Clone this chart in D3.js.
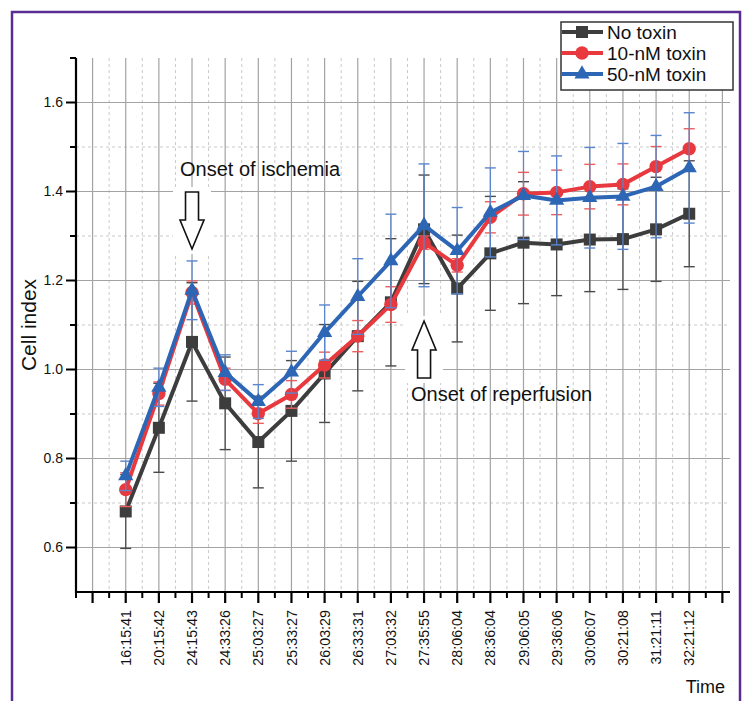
<!DOCTYPE html>
<html>
<head>
<meta charset="utf-8">
<script src="https://cdn.jsdelivr.net/npm/d3@7/dist/d3.min.js"></script>
<style>
  html, body { margin: 0; padding: 0; background: #fff; }
  svg { display: block; font-family: "Liberation Sans", Arial, sans-serif; }
</style>
</head>
<body>
<svg id="chart" width="744" height="701"></svg>
<script>
// Time points (hh:mm:ss after seeding)
const timeLabels = ["16:15:41", "20:15:42", "24:15:43", "24:33:26", "25:03:27", "25:33:27",
  "26:03:29", "26:33:31", "27:03:32", "27:35:55", "28:06:04", "28:36:04", "29:06:05",
  "29:36:06", "30:06:07", "30:21:08", "31:21:11", "32:21:12"];

// Cell index means and errors for each condition
const noToxin = [0.681, 0.869, 1.062, 0.924, 0.837, 0.907, 0.991, 1.075, 1.151, 1.315,
  1.182, 1.261, 1.285, 1.281, 1.292, 1.293, 1.315, 1.350];
const noToxinErr = [0.083, 0.100, 0.133, 0.104, 0.103, 0.113, 0.110, 0.123, 0.143, 0.122,
  0.120, 0.128, 0.137, 0.115, 0.117, 0.113, 0.117, 0.119];

const toxin10 = [0.730, 0.946, 1.173, 0.978, 0.901, 0.944, 1.010, 1.075, 1.146, 1.285,
  1.234, 1.342, 1.395, 1.398, 1.411, 1.416, 1.456, 1.496];
const toxin10Err = [0.038, 0.026, 0.026, 0.025, 0.022, 0.031, 0.029, 0.035, 0.040, 0.015,
  0.015, 0.035, 0.048, 0.050, 0.050, 0.046, 0.045, 0.045];

const toxin50 = [0.761, 0.960, 1.178, 0.993, 0.928, 0.994, 1.083, 1.164, 1.244, 1.324,
  1.267, 1.353, 1.391, 1.380, 1.386, 1.389, 1.411, 1.453];
const toxin50Err = [0.033, 0.043, 0.066, 0.040, 0.038, 0.047, 0.062, 0.085, 0.105, 0.138,
  0.097, 0.100, 0.099, 0.100, 0.113, 0.119, 0.115, 0.124];

const seriesNames = ["No toxin", "10-nM toxin", "50-nM toxin"];
const yMajorTicks = [0.6, 0.8, 1.0, 1.2, 1.4, 1.6];
const yMinorTicks = [0.7, 0.9, 1.1, 1.3, 1.5, 1.7];

const series = [
  { name: seriesNames[0], values: noToxin, err: noToxinErr, color: "#3d3d3d", errColor: "#4a4a4a", symbol: d3.symbolSquare, size: 144 },
  { name: seriesNames[1], values: toxin10, err: toxin10Err, color: "#e8393e", errColor: "#ee5c5c", symbol: d3.symbolCircle, size: 140 },
  { name: seriesNames[2], values: toxin50, err: toxin50Err, color: "#2e66b6", errColor: "#5a86cf", symbol: d3.symbolTriangle, size: 100 }
];

const svg = d3.select("#chart");

// Outer frame
svg.append("rect")
  .attr("x", 12).attr("y", 12).attr("width", 728).attr("height", 700)
  .attr("fill", "none").attr("stroke", "#5b2d93").attr("stroke-width", 2.5);

const plotLeft = 76, plotRight = 730, plotTop = 58, plotBottom = 592;
// Category slots: slot 0 and 19 are blank, time points sit at slots 1..18
const x = d3.scaleLinear().domain([-0.5, 19.23]).range([plotLeft, plotRight]);
const y = d3.scaleLinear().domain([0.5, 1.7]).range([plotBottom, plotTop]);

const majorSlots = d3.range(0, 20);
const minorSlots = d3.range(0, 20).map(i => i + 0.5).filter(v => x(v) <= plotRight);

// Grid
const grid = svg.append("g");
grid.selectAll(".vmin").data(minorSlots).join("line")
  .attr("x1", d => x(d)).attr("x2", d => x(d)).attr("y1", plotTop).attr("y2", plotBottom)
  .attr("stroke", "#c9c9c9").attr("stroke-width", 1).attr("stroke-dasharray", "3,3");
grid.selectAll(".hmin").data(yMinorTicks.filter(v => v < 1.69)).join("line")
  .attr("x1", plotLeft).attr("x2", plotRight).attr("y1", d => y(d)).attr("y2", d => y(d))
  .attr("stroke", "#c9c9c9").attr("stroke-width", 1).attr("stroke-dasharray", "3,3");
grid.selectAll(".vmaj").data(majorSlots).join("line")
  .attr("x1", d => x(d)).attr("x2", d => x(d)).attr("y1", plotTop).attr("y2", plotBottom)
  .attr("stroke", "#a3a3a3").attr("stroke-width", 1.2);
grid.selectAll(".hmaj").data(yMajorTicks).join("line")
  .attr("x1", plotLeft).attr("x2", plotRight).attr("y1", d => y(d)).attr("y2", d => y(d))
  .attr("stroke", "#a3a3a3").attr("stroke-width", 1.2);

// Hollow arrows with white backing, pointing at the ischemia and reperfusion slots
function arrow(g, cx, tipY, dir) {
  // dir = 1 points down, -1 points up
  const headLen = 29, headHalf = 12, shaftHalf = 6.5, shaftLen = 28;
  const baseY = tipY - dir * headLen;
  const endY = baseY - dir * shaftLen;
  g.append("rect")
    .attr("x", cx - 19).attr("width", 38)
    .attr("y", Math.min(tipY, endY) - 5).attr("height", Math.abs(tipY - endY) + 10)
    .attr("fill", "#fff");
  const pts = [[cx - shaftHalf, endY], [cx + shaftHalf, endY], [cx + shaftHalf, baseY],
    [cx + headHalf, baseY], [cx, tipY], [cx - headHalf, baseY], [cx - shaftHalf, baseY]];
  g.append("path").attr("d", "M" + pts.map(p => p.join(",")).join("L") + "Z")
    .attr("fill", "#fff").attr("stroke", "#111").attr("stroke-width", 1.6)
    .attr("stroke-linejoin", "miter");
}
const ann = svg.append("g");
arrow(ann, x(3), 249, 1);
arrow(ann, x(10), 321, -1);
ann.append("text").attr("x", 180).attr("y", 176).attr("font-size", 20).attr("fill", "#111")
  .text("Onset of ischemia");
ann.append("text").attr("x", 411).attr("y", 401).attr("font-size", 20).attr("fill", "#111")
  .text("Onset of reperfusion");

// Axes
const axes = svg.append("g").attr("stroke", "#000");
axes.append("line").attr("x1", plotLeft).attr("x2", plotLeft).attr("y1", plotTop).attr("y2", plotBottom + 1)
  .attr("stroke-width", 2.2);
axes.append("line").attr("x1", plotLeft - 1).attr("x2", plotRight).attr("y1", plotBottom).attr("y2", plotBottom)
  .attr("stroke-width", 2.2);
axes.selectAll(".ymaj").data(yMajorTicks).join("line")
  .attr("x1", plotLeft - 10).attr("x2", plotLeft).attr("y1", d => y(d)).attr("y2", d => y(d))
  .attr("stroke-width", 2);
axes.selectAll(".ymin").data(yMinorTicks).join("line")
  .attr("x1", plotLeft - 6).attr("x2", plotLeft).attr("y1", d => y(d)).attr("y2", d => y(d))
  .attr("stroke-width", 2);
axes.selectAll(".xmaj").data(majorSlots).join("line")
  .attr("x1", d => x(d)).attr("x2", d => x(d)).attr("y1", plotBottom).attr("y2", plotBottom + 11)
  .attr("stroke-width", 2.2);
axes.selectAll(".xmin").data([-0.5].concat(minorSlots)).join("line")
  .attr("x1", d => x(d)).attr("x2", d => x(d)).attr("y1", plotBottom).attr("y2", plotBottom + 6)
  .attr("stroke-width", 2);

svg.append("g").selectAll("text").data(yMajorTicks).join("text")
  .attr("x", plotLeft - 13).attr("y", d => y(d)).attr("dy", "0.35em")
  .attr("text-anchor", "end").attr("font-size", 14).attr("fill", "#111")
  .text(d => d.toFixed(1));

svg.append("g").selectAll("text").data(timeLabels).join("text")
  .attr("transform", (d, i) => `translate(${x(i + 1)},${plotBottom + 18}) rotate(-90)`)
  .attr("dy", "0.36em").attr("text-anchor", "end").attr("font-size", 14.3).attr("fill", "#111")
  .text(d => d);

svg.append("text").attr("transform", `translate(36,${y(1.1)}) rotate(-90)`)
  .attr("text-anchor", "middle").attr("font-size", 21).attr("fill", "#111").text("Cell index");
svg.append("text").attr("x", 725).attr("y", 693).attr("text-anchor", "end")
  .attr("font-size", 18).attr("fill", "#111").text("Time");

// Series: error bars, line, markers
const line = d3.line().x((d, i) => x(i + 1)).y(d => y(d));
series.forEach(s => {
  const g = svg.append("g");
  const eb = g.selectAll(".eb").data(s.values).join("g");
  eb.append("line")
    .attr("x1", (d, i) => x(i + 1)).attr("x2", (d, i) => x(i + 1))
    .attr("y1", (d, i) => y(d - s.err[i])).attr("y2", (d, i) => y(d + s.err[i]))
    .attr("stroke", s.errColor).attr("stroke-width", 1.2);
  [-1, 1].forEach(sign => {
    eb.append("line")
      .attr("x1", (d, i) => x(i + 1) - 5.5).attr("x2", (d, i) => x(i + 1) + 5.5)
      .attr("y1", (d, i) => y(d + sign * s.err[i])).attr("y2", (d, i) => y(d + sign * s.err[i]))
      .attr("stroke", s.errColor).attr("stroke-width", 1.4);
  });
  g.append("path").datum(s.values).attr("d", line)
    .attr("fill", "none").attr("stroke", s.color).attr("stroke-width", 4)
    .attr("stroke-linejoin", "round");
  g.selectAll(".mk").data(s.values).join("path")
    .attr("transform", (d, i) => `translate(${x(i + 1)},${y(d)})`)
    .attr("d", d3.symbol().type(s.symbol).size(s.size))
    .attr("fill", s.color);
});

// Legend
const lg = svg.append("g");
lg.append("rect").attr("x", 561).attr("y", 22).attr("width", 172).attr("height", 68)
  .attr("fill", "#fff").attr("stroke", "#333").attr("stroke-width", 1.5);
series.forEach((s, k) => {
  const cy = 32 + k * 21;
  lg.append("line").attr("x1", 562).attr("x2", 603).attr("y1", cy).attr("y2", cy)
    .attr("stroke", s.color).attr("stroke-width", 4);
  lg.append("path").attr("transform", `translate(582,${cy})`)
    .attr("d", d3.symbol().type(s.symbol).size(s.size)).attr("fill", s.color);
  lg.append("text").attr("x", 607).attr("y", cy).attr("dy", "0.35em")
    .attr("font-size", 19).attr("fill", "#111").text(s.name);
});
</script>
</body>
</html>
